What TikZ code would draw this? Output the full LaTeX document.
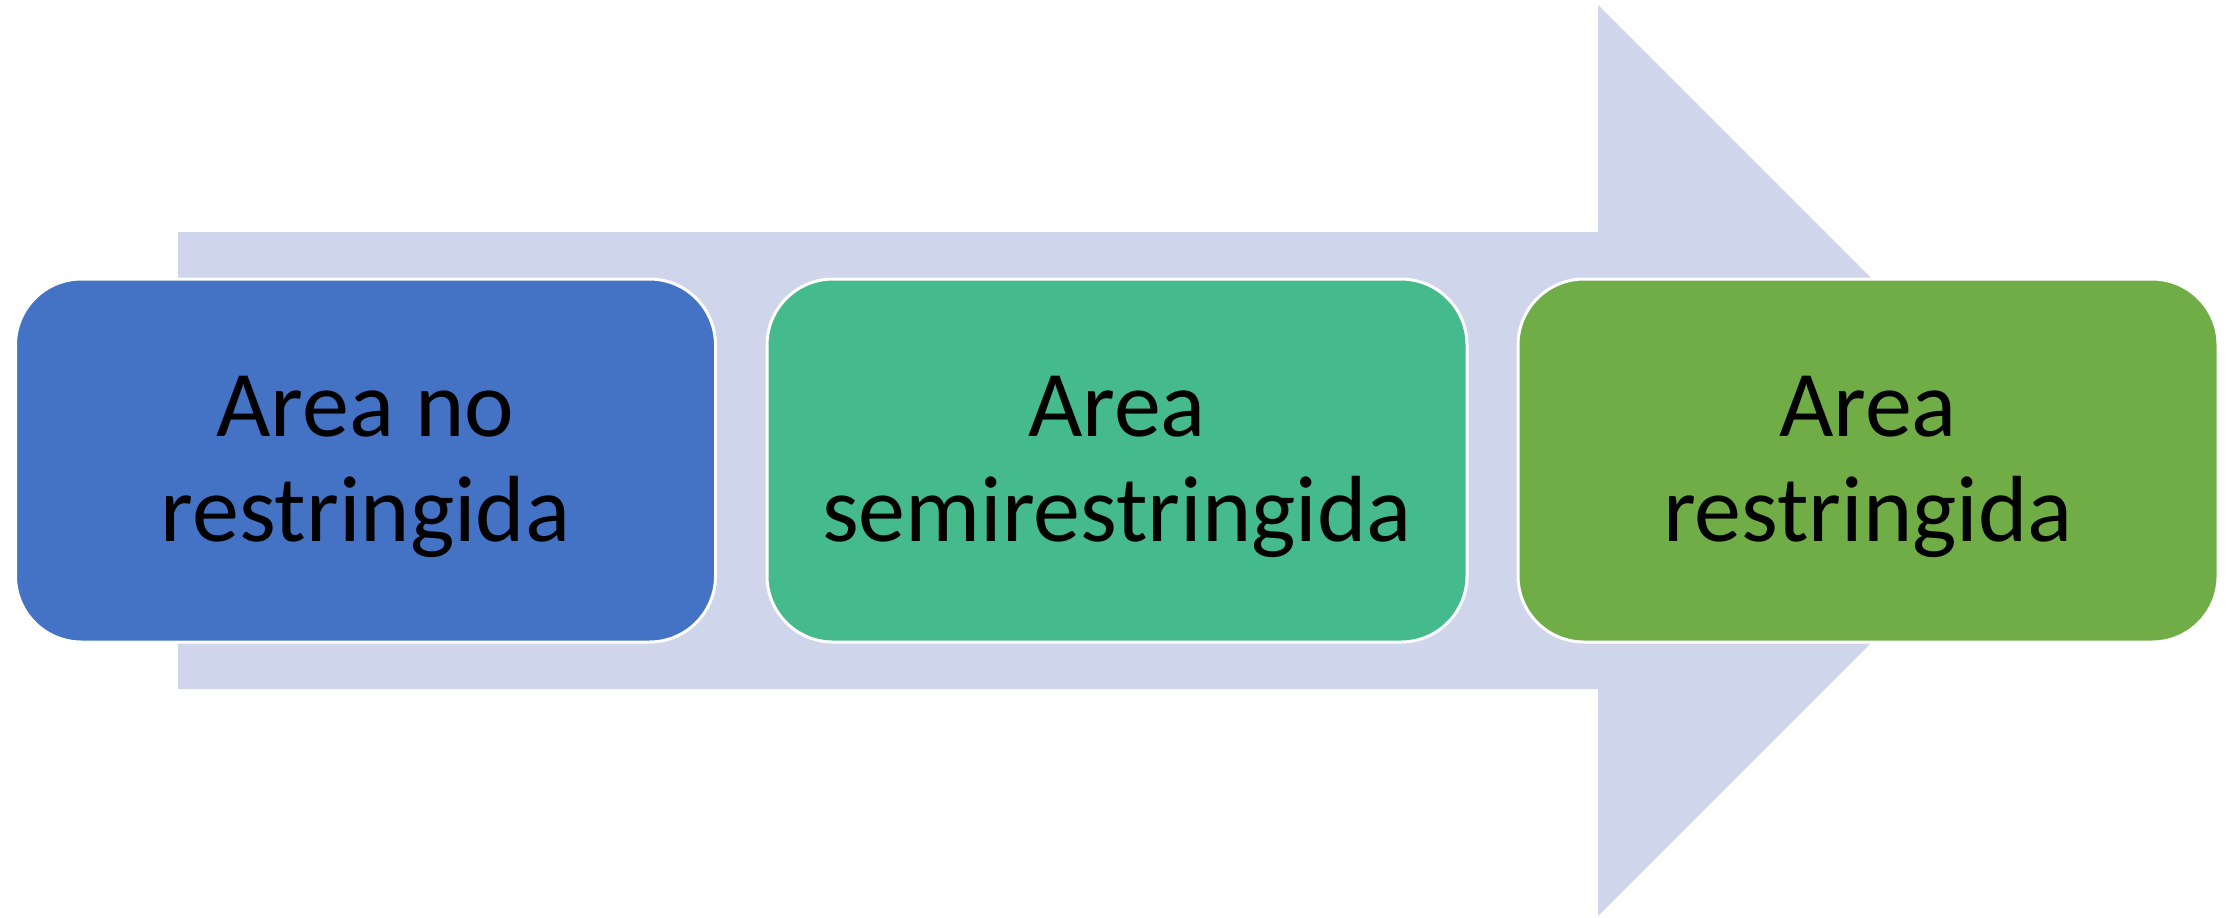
\documentclass[tikz,border=0pt]{standalone}
\usepackage{fontspec}
\newfontfamily\lab{Carlito}
\definecolor{arrowc}{HTML}{CFD5EA}
\definecolor{cone}{HTML}{4472C4}
\definecolor{ctwo}{HTML}{44BA8D}
\definecolor{cthree}{HTML}{70AD47}
\begin{document}
\begin{tikzpicture}[x=0.5pt,y=-0.5pt,
  box/.style={rounded corners=33pt, minimum width=350pt, minimum height=181.5pt,
              draw=white, line width=1.5pt, inner sep=0pt},
  txt/.style={font=\lab\fontsize{47}{52.5}\selectfont, align=center, text=black, inner sep=0pt}]
\useasboundingbox (0,0) rectangle (2236,917);
\fill[arrowc] (178,232) -- (1598,232) -- (1598,5) -- (2053.5,460.5) -- (1598,916)
   -- (1598,689) -- (178,689) -- cycle;
\node[box, fill=cone]   (b1) at (365.5,460.5) {};
\node[box, fill=ctwo]   (b2) at (1117,460.5) {};
\node[box, fill=cthree] (b3) at (1868,460.5) {};
\node[txt] (t1) at ([yshift=-3.3pt]b1.center) {Area no\\restringida};
\node[txt] (t2) at ([yshift=-3.3pt]b2.center) {Area\\semirestringida};
\node[txt] (t3) at ([yshift=-3.3pt]b3.center) {Area\\restringida};
\end{tikzpicture}
\end{document}
